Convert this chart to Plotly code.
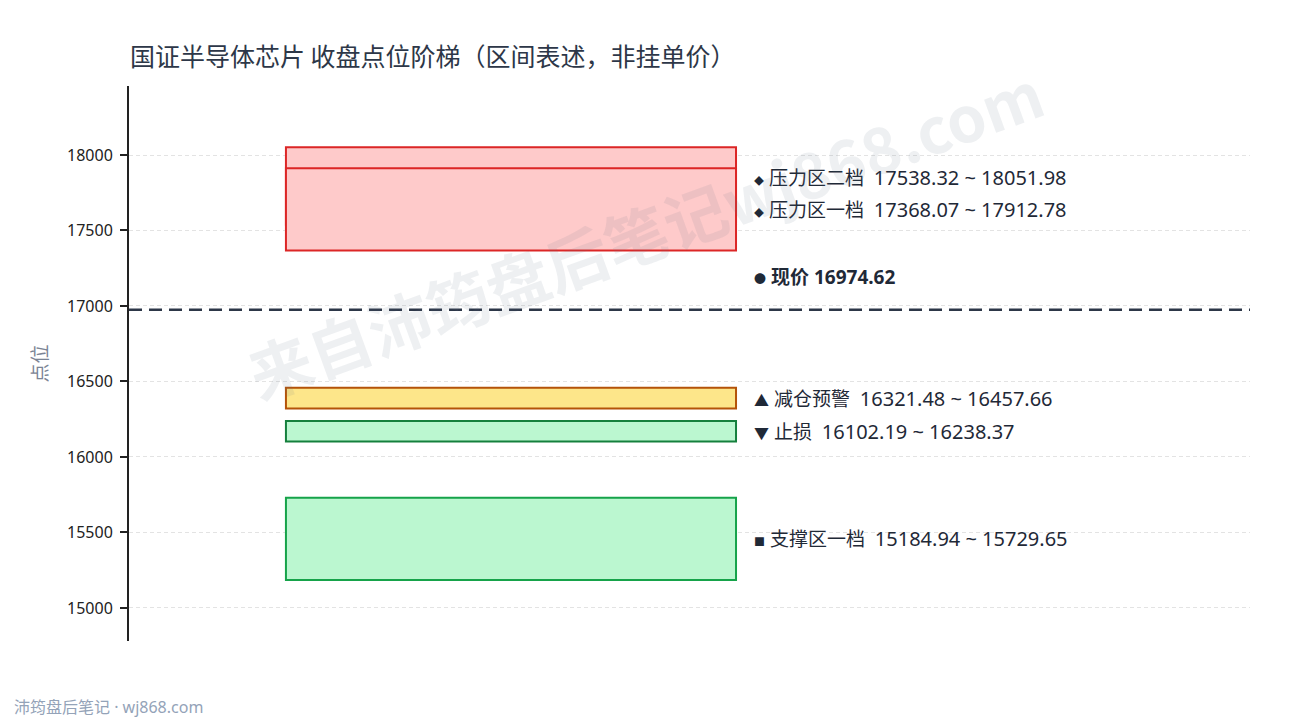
import plotly.graph_objects as go

# 区间数据（收盘点位）
zone_names = ["压力区二档", "压力区一档", "减仓预警", "止损", "支撑区一档"]
zone_low = [17538.32, 17368.07, 16321.48, 16102.19, 15184.94]
zone_high = [18051.98, 17912.78, 16457.66, 16238.37, 15729.65]
zone_icons = ["◆", "◆", "▲", "▼", "■"]
current_price = 16974.62
tick_vals = [15000, 15500, 16000, 16500, 17000, 17500, 18000]

FONT = "Noto Sans, Noto Sans CJK SC, sans-serif"
CJK = "Noto Sans CJK SC, sans-serif"
TEXT = "#1f2937"

fills = ["#fecaca", "#fecaca", "#fde68a", "#bbf7d0", "#bbf7d0"]
lines = ["#dc2626", "#dc2626", "#b45309", "#15803d", "#16a34a"]
icon_size = [10, 10, 15, 15, 11]

fig = go.Figure()
# invisible trace so the axes get drawn
fig.add_trace(go.Scatter(x=[0, 1], y=[zone_low[-1], zone_high[0]], mode="markers",
                         marker=dict(opacity=0), hoverinfo="skip", showlegend=False))

for i in range(len(zone_names)):
    fig.add_shape(type="rect", xref="x", yref="y",
                  x0=0.14, x1=0.5415, y0=zone_low[i], y1=zone_high[i],
                  fillcolor=fills[i], line=dict(color=lines[i], width=2), layer="above")

# 现价虚线
fig.add_shape(type="line", xref="paper", yref="y", x0=0, x1=1,
              y0=current_price, y1=current_price,
              line=dict(color="#2d3748", width=2.4, dash="13px,7px"))

# label positions: midpoints, pushed up if too close
mids = [(lo + hi) / 2 for lo, hi in zip(zone_low, zone_high)]
order = sorted(range(len(mids)), key=lambda k: mids[k])
label_y = mids[:]
min_gap = 212
for a, b in zip(order[:-1], order[1:]):
    if label_y[b] - label_y[a] < min_gap:
        label_y[b] = label_y[a] + min_gap

for i in range(len(zone_names)):
    txt = ("<span style='font-size:%dpx'>%s</span> %s\u00a0\u00a0"
           "<span style='font-size:20px'>%.2f\u00a0~\u00a0%.2f</span>"
           % (icon_size[i], zone_icons[i], zone_names[i], zone_low[i], zone_high[i]))
    fig.add_annotation(x=0.556, xref="paper", y=label_y[i], yref="y", text=txt,
                       showarrow=False, xanchor="left", yanchor="middle",
                       font=dict(family=FONT, size=19, color=TEXT))

fig.add_annotation(x=0.556, xref="paper", y=current_price, yref="y", yshift=33,
                   text="<span style='font-size:12px'>●</span> <b>现价 %.2f</b>" % current_price,
                   showarrow=False, xanchor="left", yanchor="middle",
                   font=dict(family=FONT, size=19, color=TEXT))

# 水印
fig.add_annotation(x=0.46, xref="paper", y=0.737, yref="paper",
                   xanchor="center", yanchor="middle",
                   text="<b>来自沛筠盘后笔记wj868.com</b>", textangle=-20, showarrow=False,
                   font=dict(family=CJK, size=63, color="rgba(100,116,139,0.11)"))

# footer
fig.add_annotation(x=-0.1044, xref="paper", y=-0.119, yref="paper",
                   text="沛筠盘后笔记 · wj868.com", showarrow=False,
                   xanchor="left", yanchor="middle",
                   font=dict(family=FONT, size=16, color="#94a3b8"))

fig.update_layout(
    width=1290, height=720,
    margin=dict(l=121, r=48, t=78, b=87),
    paper_bgcolor="white", plot_bgcolor="white",
    title=dict(text="国证半导体芯片 收盘点位阶梯（区间表述，非挂单价）",
               x=122 / 1290, xanchor="left", xref="container",
               y=1 - 49 / 720, yanchor="middle", yref="container",
               font=dict(family=CJK, size=25, color="#2d3748")),
    showlegend=False,
    font=dict(family=FONT),
)
fig.update_xaxes(range=[0, 1], visible=False)
fig.update_yaxes(range=[14781, 18457], tickvals=tick_vals,
                 ticktext=[str(v) for v in tick_vals],
                 showline=True, linecolor="#222222", linewidth=2,
                 ticks="outside", ticklen=7, tickcolor="#222222", tickwidth=1.5,
                 ticklabelstandoff=4,
                 showgrid=True, gridcolor="#e3e3e3", griddash="4px,3px", gridwidth=1,
                 zeroline=False, automargin=False,
                 tickfont=dict(family=FONT, size=16, color="#222222"),
                 title=dict(text="点位", standoff=14,
                            font=dict(family=CJK, size=19, color="#7b8494")))

fig.write_html("out.html")
